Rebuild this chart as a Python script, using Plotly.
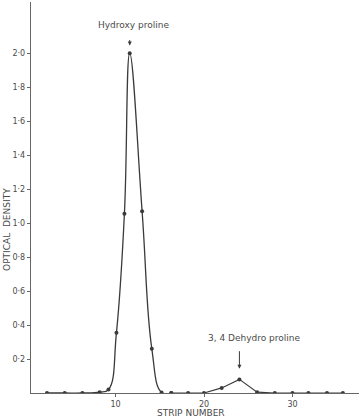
import plotly.graph_objects as go

# Data
strip = [2.25, 4.25, 6.25, 8.2, 9.2, 10.1, 11.0, 11.6, 13.0, 14.1, 15.2,
         16.3, 18.2, 20.0, 22.0, 24.0, 26.0, 28.0, 30.0, 31.8, 33.9, 35.7]
density = [0.0, 0.0, 0.0, 0.005, 0.02, 0.355, 1.055, 2.0, 1.07, 0.26, 0.003,
           0.0, 0.0, 0.0, 0.03, 0.08, 0.005, 0.0, 0.0, 0.0, 0.0, 0.0]

y_tickvals = [0.2, 0.4, 0.6, 0.8, 1.0, 1.2, 1.4, 1.6, 1.8, 2.0]
y_ticktext = ["0·2", "0·4", "0·6", "0·8", "1·0", "1·2", "1·4", "1·6", "1·8", "2·0"]
x_tickvals = [10, 20, 30]
x_ticktext = ["10", "20", "30"]

peak_labels = ["Hydroxy proline", "3, 4 Dehydro proline"]
peak_x = [11.6, 24.0]

FONT = "DejaVu Sans"
TXT = "#4a4a4a"
LINE = "#3a3a3a"

fig = go.Figure()
# Main peak as smooth curve
fig.add_trace(go.Scatter(
    x=strip[:12], y=density[:12], mode="lines+markers",
    line=dict(color=LINE, width=1.3, shape="spline", smoothing=1.2),
    marker=dict(color=LINE, size=4), showlegend=False, hoverinfo="skip"))
# Tail as straight segments
fig.add_trace(go.Scatter(
    x=strip[11:], y=density[11:], mode="lines+markers",
    line=dict(color=LINE, width=1.1),
    marker=dict(color=LINE, size=4), showlegend=False, hoverinfo="skip"))

fig.update_layout(
    width=359, height=418,
    margin=dict(l=31, r=0, t=2, b=25),
    paper_bgcolor="white", plot_bgcolor="white",
    font=dict(family=FONT, size=8, color=TXT),
    xaxis=dict(range=[0.44, 37.52], showgrid=False, zeroline=False,
               automargin=False,
               showline=True, linecolor="#666", linewidth=1.2,
               tickmode="array", tickvals=x_tickvals, ticktext=x_ticktext,
               ticks="outside", ticklen=3, tickcolor="#666",
               tickfont=dict(size=8, color=TXT, family=FONT)),
    yaxis=dict(range=[0, 2.301], showgrid=False, zeroline=False,
               automargin=False,
               showline=True, linecolor="#666", linewidth=1.2,
               tickmode="array", tickvals=y_tickvals, ticktext=y_ticktext,
               ticks="outside", ticklen=3, tickcolor="#666",
               tickfont=dict(size=8, color=TXT, family=FONT)),
)

# Peak labels
fig.add_annotation(x=12.04, y=2.164, xref="x", yref="y", text=peak_labels[0],
                   xanchor="center", yanchor="middle",
                   showarrow=False, font=dict(size=9, color=TXT, family=FONT))
fig.add_annotation(x=peak_x[0], y=2.045, xref="x", yref="y", text="",
                   showarrow=True, ax=0, ay=-7, arrowhead=2, arrowsize=0.8,
                   arrowwidth=1, arrowcolor=LINE)
fig.add_annotation(x=25.76, y=0.324, xref="x", yref="y", text=peak_labels[1],
                   xanchor="center", yanchor="middle",
                   showarrow=False, font=dict(size=9, color=TXT, family=FONT))
fig.add_annotation(x=peak_x[1], y=0.143, xref="x", yref="y", text="",
                   showarrow=True, ax=0, ay=-19, arrowhead=2, arrowsize=0.8,
                   arrowwidth=1, arrowcolor=LINE)

# Axis titles
fig.add_annotation(x=18.5, y=-0.052, xref="x", yref="paper", text="STRIP NUMBER",
                   xanchor="center", yanchor="middle",
                   showarrow=False, font=dict(size=9, color=TXT, family=FONT))
fig.add_annotation(x=-0.074, y=0.419, xref="paper", yref="paper", text="OPTICAL  DENSITY",
                   xanchor="center", yanchor="middle",
                   textangle=-90, showarrow=False,
                   font=dict(size=9, color=TXT, family=FONT))

fig.write_html("out.html", config={"displayModeBar": False, "staticPlot": True},
               post_script="document.body.style.margin='0';document.body.style.overflow='hidden';")
